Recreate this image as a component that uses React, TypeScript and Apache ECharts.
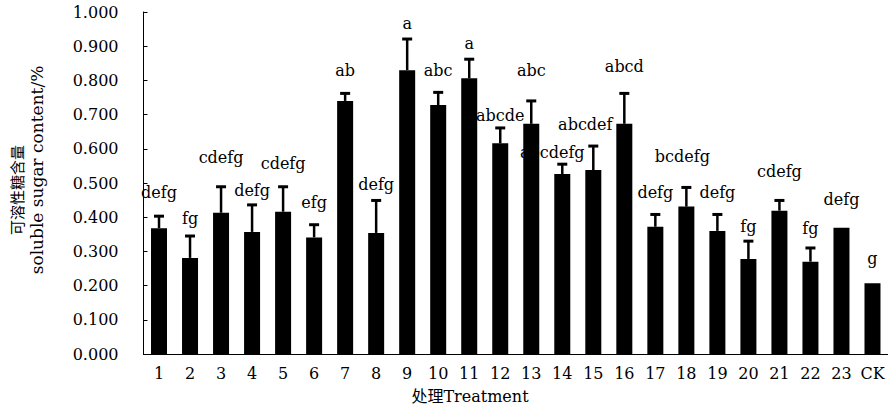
import React, { useEffect, useRef } from "react";
import * as echarts from "echarts";

const categories = ["1","2","3","4","5","6","7","8","9","10","11","12","13","14","15","16","17","18","19","20","21","22","23","CK"];
const sugar = [0.368,0.281,0.413,0.357,0.416,0.341,0.740,0.354,0.830,0.728,0.806,0.616,0.673,0.526,0.538,0.673,0.372,0.431,0.360,0.278,0.419,0.270,0.369,0.207];
const sd = [0.035,0.064,0.076,0.079,0.073,0.037,0.022,0.095,0.091,0.037,0.056,0.045,0.067,0.029,0.070,0.089,0.036,0.056,0.048,0.052,0.030,0.040,0,0];
const letters = ["defg","fg","cdefg","defg","cdefg","efg","ab","defg","a","abc","a","abcde","abc","abcdefg","abcdef","abcd","defg","bcdefg","defg","fg","cdefg","fg","defg","g"];
const letterLevel = [0.472,0.395,0.576,0.477,0.558,0.442,0.830,0.497,0.965,0.830,0.908,0.696,0.830,0.588,0.670,0.840,0.471,0.577,0.471,0.374,0.533,0.368,0.453,0.278];
const yTicks = { min: 0, max: 1, interval: 0.1 };

const FONT = "'DejaVu Serif', 'Noto Sans CJK SC', serif";
const labelShift: Record<number, number> = { 13: -10, 14: -8, 17: -4 };

export default function App() {
  const ref = useRef<HTMLDivElement>(null);
  useEffect(() => {
    if (!ref.current) return;
    const chart = echarts.init(ref.current, null, { renderer: "svg" });
    chart.setOption({
      animation: false,
      backgroundColor: "#fff",
      grid: { left: 143.5, top: 12, width: 750, height: 342 },
      xAxis: {
        type: "category",
        data: categories,
        axisLine: { show: true, lineStyle: { color: "#000", width: 1 } },
        axisTick: { show: false },
        axisLabel: { interval: 0, color: "#000", fontFamily: FONT, fontSize: 16, margin: 11 },
        splitLine: { show: false },
      },
      yAxis: {
        type: "value",
        min: yTicks.min,
        max: yTicks.max,
        interval: yTicks.interval,
        axisLine: { show: true, lineStyle: { color: "#000", width: 1 } },
        axisTick: { show: true, inside: true, length: 4, lineStyle: { color: "#000" } },
        axisLabel: {
          color: "#000",
          fontFamily: FONT,
          fontSize: 16,
          margin: 25,
          formatter: (v: number) => v.toFixed(3),
        },
        splitLine: { show: false },
      },
      graphic: [
        {
          type: "text",
          x: 18,
          y: 190,
          rotation: Math.PI / 2,
          style: { text: "可溶性糖含量", fontFamily: FONT, fontSize: 15, fill: "#000", align: "center", verticalAlign: "middle" },
        },
        {
          type: "text",
          x: 37,
          y: 170,
          rotation: Math.PI / 2,
          style: { text: "soluble sugar content/%", fontFamily: FONT, fontSize: 17, fill: "#000", align: "center", verticalAlign: "middle" },
        },
        {
          type: "text",
          x: 470,
          y: 396,
          style: { text: "处理Treatment", fontFamily: FONT, fontSize: 16, fill: "#000", align: "center", verticalAlign: "middle" },
        },
      ],
      series: [
        {
          type: "custom",
          z: 1,
          silent: true,
          data: letterLevel.map((v, i) => [i, v]),
          encode: { x: 0, y: 1 },
          renderItem: (params: any, api: any) => {
            const i = params.dataIndex;
            const p = api.coord([api.value(0), api.value(1)]);
            return {
              type: "text",
              x: p[0] + (labelShift[i] || 0),
              y: p[1],
              style: {
                text: letters[i],
                fill: "#000",
                fontFamily: FONT,
                fontSize: 16,
                align: "center",
                verticalAlign: "middle",
              },
            };
          },
        },
        {
          type: "bar",
          z: 2,
          data: sugar,
          barWidth: 16,
          itemStyle: { color: "#000" },
        },
        {
          type: "custom",
          z: 3,
          data: sugar.map((v, i) => [i, v, sd[i]]),
          encode: { x: 0, y: 1 },
          renderItem: (params: any, api: any) => {
            const x = api.value(0);
            const v = api.value(1);
            const e = api.value(2);
            if (!e) return null;
            const p0 = api.coord([x, v]);
            const p1 = api.coord([x, v + e]);
            return {
              type: "group",
              children: [
                { type: "line", shape: { x1: p0[0], y1: p0[1], x2: p1[0], y2: p1[1] }, style: { stroke: "#000", lineWidth: 2.5 } },
                { type: "line", shape: { x1: p1[0] - 5, y1: p1[1], x2: p1[0] + 5, y2: p1[1] }, style: { stroke: "#000", lineWidth: 3 } },
              ],
            };
          },
        },
      ],
    });
    return () => chart.dispose();
  }, []);
  return <div ref={ref} style={{ position: "fixed", left: 0, top: 0, width: 888, height: 408 }} />;
}
